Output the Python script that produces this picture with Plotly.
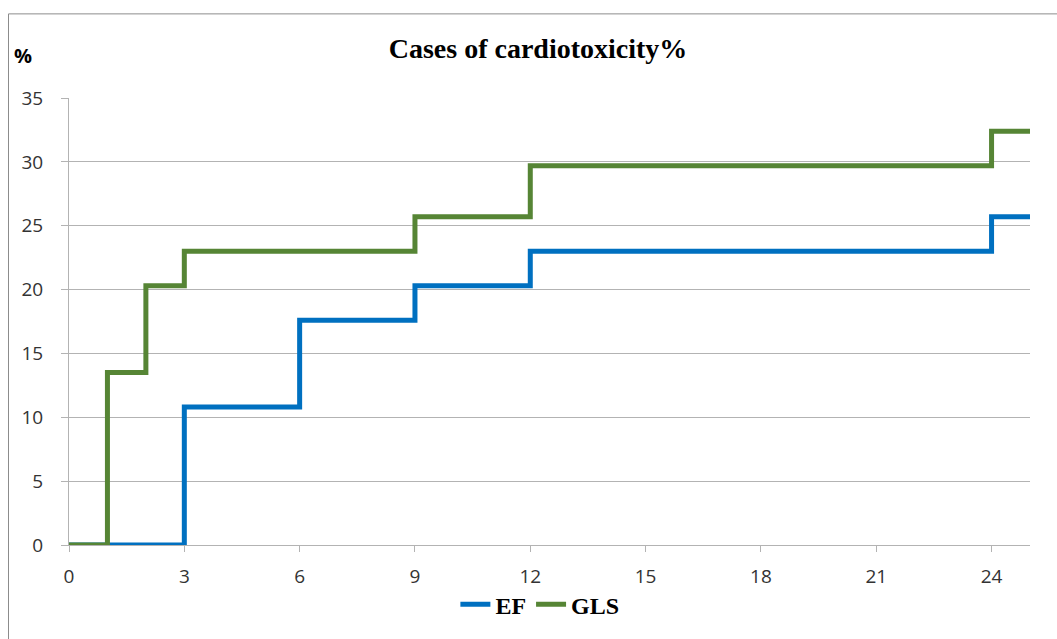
import plotly.graph_objects as go

months_ef = [0, 3, 6, 9, 12, 24, 25]
ef_values = [0, 10.8, 17.6, 20.3, 23.0, 25.7, 25.7]
months_gls = [0, 1, 2, 3, 9, 12, 24, 25]
gls_values = [0, 13.5, 20.3, 23.0, 25.7, 29.7, 32.4, 32.4]
x_ticks = [0, 3, 6, 9, 12, 15, 18, 21, 24]
y_ticks = [0, 5, 10, 15, 20, 25, 30, 35]

fig = go.Figure()
fig.add_trace(go.Scatter(x=months_ef, y=ef_values, name="<b>EF</b>", mode="lines",
                         line=dict(color="#0070C0", width=5, shape="hv")))
fig.add_trace(go.Scatter(x=months_gls, y=gls_values, name="<b>GLS</b>", mode="lines",
                         line=dict(color="#568535", width=5, shape="hv")))

grid = "#b3b3b3"
tickfont = dict(family="Open Sans", size=19, color="#333333")
fig.update_layout(
    width=1057, height=639,
    margin=dict(l=69, r=27, t=98, b=92),
    paper_bgcolor="white", plot_bgcolor="white",
    title=dict(text="<b>Cases of cardiotoxicity%</b>", x=538/1057, xanchor="center",
               y=1 - 48/639, yanchor="middle",
               font=dict(family="Liberation Serif", size=28, color="black")),
    xaxis=dict(range=[0, 25], tickvals=x_ticks, showgrid=False, showline=True,
               linecolor=grid, linewidth=1, ticks="outside", ticklen=6, tickcolor=grid,
               tickfont=tickfont, ticklabelstandoff=8, zeroline=False),
    yaxis=dict(range=[0, 35], tickvals=y_ticks, showgrid=True, gridcolor=grid, gridwidth=1,
               showline=True, linecolor=grid, linewidth=1, ticks="outside", ticklen=7,
               tickcolor=grid, tickfont=tickfont, ticklabelstandoff=14, zeroline=False),
    legend=dict(orientation="h", x=0.49, xanchor="center", y=(547 - 607) / 449, yanchor="middle",
                font=dict(family="Liberation Serif", size=24, color="black"),
                bgcolor="rgba(0,0,0,0)"),
    showlegend=True,
)

fig.add_annotation(text="<b>%</b>", xref="paper", yref="paper",
                   x=(23 - 69) / 961, y=(547 - 55) / 449, xanchor="center", yanchor="middle",
                   showarrow=False,
                   font=dict(family="Open Sans", size=20, color="black"))

fig.add_shape(type="rect", xref="paper", yref="paper",
              x0=(8.5 - 69) / 961, x1=(1070 - 69) / 961,
              y0=(547 - 660) / 449, y1=(547 - 13.5) / 449,
              line=dict(color="#8c8c8c", width=1), fillcolor="rgba(0,0,0,0)", layer="below")

fig.write_html("out.html")
